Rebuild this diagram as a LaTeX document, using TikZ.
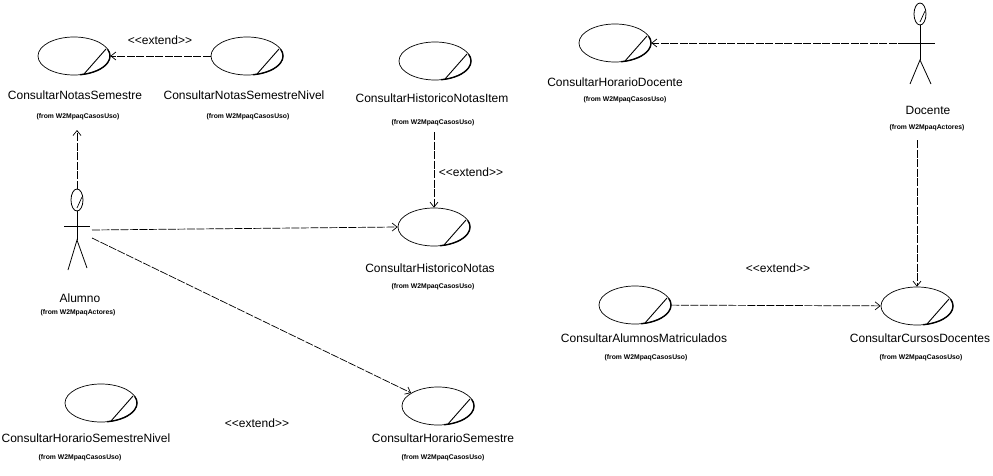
\documentclass[tikz,border=0pt]{standalone}
\usepackage{fontspec}
\setmainfont{Liberation Sans}[Ligatures=TeXOff]
\usetikzlibrary{shapes.geometric,arrows.meta}
\tikzset{
  uc/.style={draw, line width=0.7pt, ellipse, minimum width=72pt, minimum height=38pt, inner sep=0pt},
  lbl/.style={font=\fontsize{12}{14}\selectfont, inner sep=1pt},
  frm/.style={font=\fontsize{6.8}{8}\selectfont\bfseries, inner sep=1pt},
  exttxt/.style={font=\fontsize{12}{14}\selectfont, inner sep=1pt},
  conn/.style={draw, line width=0.7pt, dash pattern=on 8pt off 1.5pt, -{Straight Barb[length=5pt,width=8pt]}},
  actorhead/.style={draw, ellipse, line width=0.8pt, minimum width=12pt, minimum height=22pt, inner sep=0pt},
  limb/.style={line width=0.8pt},
}
\newcommand\ucmark[1]{%
  \draw[line width=1.4pt] ([shift={(6.25,-18.71)}]#1.center) arc[start angle=-80,end angle=20,x radius=36,y radius=19];
  \draw[line width=0.9pt] ([shift={(10,-18)}]#1.center) -- ([shift={(32,7)}]#1.center);
}
\newcommand\headmark[1]{%
  \draw[line width=0.7pt] ([shift={(0,-8)}]#1.center) -- ([shift={(5,3)}]#1.center);
}
\begin{document}
\begin{tikzpicture}[x=1pt,y=1pt]
\useasboundingbox (0,0) rectangle (993,475);

% ---- use cases ----
\node[uc] (cns) at (74,419) {};
\node[lbl] (cnsL) at (75,380) {ConsultarNotasSemestre};
\node[frm] (cnsF) at (78,358) {(from W2MpaqCasosUso)};

\node[uc] (cnsn) at (247,419) {};
\node[lbl] (cnsnL) at (244,380) {ConsultarNotasSemestreNivel};
\node[frm] (cnsnF) at (248,358) {(from W2MpaqCasosUso)};

\node[uc] (chni) at (435,414) {};
\node[lbl] (chniL) at (432,377) {ConsultarHistoricoNotasItem};
\node[frm] (chniF) at (433,352) {(from W2MpaqCasosUso)};

\node[uc] (chn) at (434,248) {};
\node[lbl] (chnL) at (430,207) {ConsultarHistoricoNotas};
\node[frm] (chnF) at (433,188) {(from W2MpaqCasosUso)};

\node[uc] (chsn) at (101,72) {};
\node[lbl] (chsnL) at (86,37) {ConsultarHorarioSemestreNivel};
\node[frm] (chsnF) at (80,17) {(from W2MpaqCasosUso)};

\node[uc] (chs) at (438,69) {};
\node[lbl] (chsL) at (443,37) {ConsultarHorarioSemestre};
\node[frm] (chsF) at (443,17) {(from W2MpaqCasosUso)};

\node[uc] (chd) at (615,432) {};
\node[lbl] (chdL) at (615,393) {ConsultarHorarioDocente};
\node[frm] (chdF) at (625,375) {(from W2MpaqCasosUso)};

\node[uc] (cam) at (635,170) {};
\node[lbl] (camL) at (644,137) {ConsultarAlumnosMatriculados};
\node[frm] (camF) at (646,117) {(from W2MpaqCasosUso)};

\node[uc] (ccd) at (917,169) {};
\node[lbl] (ccdL) at (920,137) {ConsultarCursosDocentes};
\node[frm] (ccdF) at (921,117) {(from W2MpaqCasosUso)};

\foreach \u in {cns,cnsn,chni,chn,chsn,chs,chd,cam,ccd} {\ucmark{\u}}

% ---- extend labels ----
\node[exttxt] (e1) at (160,435) {<<extend>>};
\node[exttxt] (e2) at (471,303) {<<extend>>};
\node[exttxt] (e3) at (778,207) {<<extend>>};
\node[exttxt] (e4) at (257,52) {<<extend>>};

% ---- actor Alumno ----
\node[actorhead] (alH) at (77,275) {};
\headmark{alH}
\coordinate (alHip) at (77,235);
\coordinate (alArmL) at (64,249);
\coordinate (alArmR) at (90,249);
\coordinate (alLegL) at (68,205);
\coordinate (alLegR) at (87,207);
\draw[limb] (alH.south) -- (alHip);
\draw[limb] (alArmL) -- (alArmR);
\draw[limb] (alLegL) -- (alHip) -- (alLegR);
\node[lbl] (alL) at (80,177) {Alumno};
\node[frm] (alF) at (78,162) {(from W2MpaqActores)};

% ---- actor Docente ----
\node[actorhead] (doH) at (920,461) {};
\headmark{doH}
\coordinate (doHip) at (920,415);
\coordinate (doArmL) at (906,432);
\coordinate (doArmR) at (935,432);
\coordinate (doLegL) at (910,391);
\coordinate (doLegR) at (931,391);
\draw[limb] (doH.south) -- (doHip);
\draw[limb] (doArmL) -- (doArmR);
\draw[limb] (doLegL) -- (doHip) -- (doLegR);
\node[lbl] (doL) at (928,365) {Docente};
\node[frm] (doF) at (927,347) {(from W2MpaqActores)};

% ---- connectors ----
\coordinate (cnsT) at (77,345);
\draw[conn] (alH.north) -- (cnsT);
\coordinate (alS1) at (92,245);
\coordinate (alS2) at (92,237);
\draw[conn] (alS1) -- (chn.west);
\draw[conn] (alS2) -- (chs);
\draw[conn] (cnsn.west) -- (cns.east);
\coordinate (chniS) at (434,343);
\draw[conn] (chniS) -- (chn.north);
\draw[conn] (doArmL) -- (chd.east);
\coordinate (doS) at (917,335);
\draw[conn] (doS) -- (ccd.north);
\draw[conn] (cam) -- (ccd);
\end{tikzpicture}
\end{document}
